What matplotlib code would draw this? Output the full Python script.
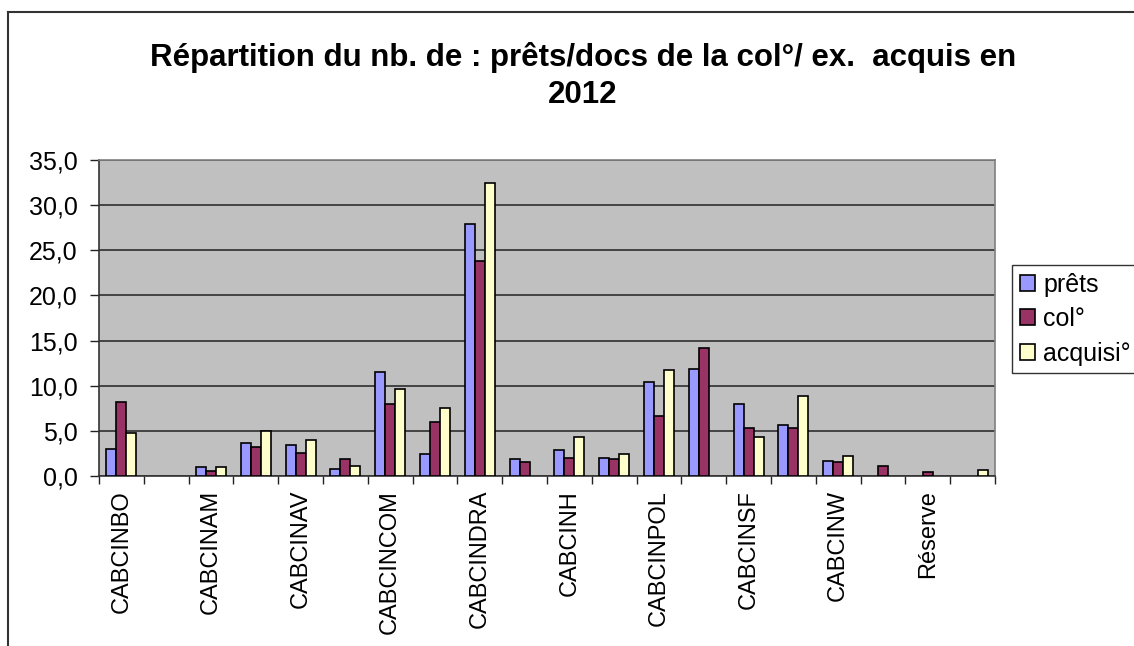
import matplotlib
matplotlib.use("Agg")
import matplotlib.pyplot as plt
import numpy as np
from matplotlib.lines import Line2D
from matplotlib.ticker import FuncFormatter

plt.rcParams['font.family'] = ['Liberation Sans', 'DejaVu Sans']

# 20 catégories, seules une sur deux sont étiquetées dans l'original
categories = ["CABCINBO", "", "CABCINAM", "", "CABCINAV", "", "CABCINCOM", "",
              "CABCINDRA", "", "CABCINH", "", "CABCINPOL", "", "CABCINSF", "",
              "CABCINW", "", "Réserve", ""]
prets = [3.0, 0, 1.0, 3.6, 3.4, 0.8, 11.5, 2.4, 27.9, 1.9,
         2.9, 2.0, 10.4, 11.8, 8.0, 5.7, 1.7, 0, 0, 0]
col = [8.2, 0, 0.6, 3.2, 2.6, 1.9, 8.0, 6.0, 23.8, 1.6,
       2.0, 1.9, 6.7, 14.2, 5.3, 5.3, 1.6, 1.1, 0.45, 0]
acquisi = [4.8, 0, 1.0, 5.0, 4.0, 1.1, 9.6, 7.5, 32.4, 0,
           4.3, 2.4, 11.7, 0, 4.3, 8.9, 2.2, 0, 0, 0.65]
series = [("prêts", prets, "#9999FF"), ("col°", col, "#993366"), ("acquisi°", acquisi, "#FFFFCC")]
title = "Répartition du nb. de : prêts/docs de la col°/ ex.  acquis en\n2012"

W, H = 1134, 646
fig = plt.figure(figsize=(W / 100, H / 100), dpi=100)
ax = fig.add_axes([99 / W, 1 - 476 / H, (995 - 99) / W, (476 - 160) / H])
ax.set_facecolor("#C0C0C0")

x = np.arange(len(categories))
bw = 0.223
for i, (name, vals, c) in enumerate(series):
    v = np.array(vals, dtype=float)
    m = v > 0
    ax.bar(x[m] + (i - 1) * bw, v[m], width=bw, color=c, edgecolor="black",
           linewidth=1.2, zorder=3, label=name)

ax.set_xlim(-0.5, len(categories) - 0.5)
ax.set_ylim(0, 35)
ax.set_yticks(np.arange(0, 36, 5))
ax.yaxis.set_major_formatter(FuncFormatter(lambda v, p: f"{v:.1f}".replace(".", ",")))
ax.grid(axis="y", color="#222222", linewidth=1.1, zorder=1)
ax.set_axisbelow(True)

lab_idx = [i for i, c in enumerate(categories) if c]
ax.set_xticks(lab_idx)
ax.set_xticklabels([categories[i] for i in lab_idx], rotation=90, va="top", ha="center", fontsize=17)
ax.set_xticks(np.arange(-0.5, len(categories), 1), minor=True)
ax.tick_params(axis="x", which="major", length=0, pad=10)
ax.tick_params(axis="x", which="minor", length=6, width=1, color="#222222", direction="out")
ax.tick_params(axis="y", length=6.5, width=1, color="#222222", labelsize=18, pad=9)

for s in ["top", "right"]:
    ax.spines[s].set_color("#808080")
    ax.spines[s].set_linewidth(1.2)
for s in ["left", "bottom"]:
    ax.spines[s].set_color("#333333")
    ax.spines[s].set_linewidth(1.2)

fig.text(583 / W, 1 - 42 / H, title, ha="center", va="top", fontsize=22.5,
         fontweight="bold", linespacing=1.3)

leg = fig.legend(loc="upper left", bbox_to_anchor=(1012 / W, 1 - 265 / H),
                 fontsize=18, frameon=True, fancybox=False, handlelength=0.6,
                 handleheight=0.6, handletextpad=0.35, borderpad=0.3,
                 labelspacing=0.42, borderaxespad=0)
leg.get_frame().set_edgecolor("black")
leg.get_frame().set_linewidth(1)

# cadre extérieur du graphique
fig.add_artist(Line2D([8 / W, 8 / W], [0, 1 - 12 / H], color="#333333", linewidth=1.5))
fig.add_artist(Line2D([8 / W, 1], [1 - 12 / H, 1 - 12 / H], color="#333333", linewidth=1.5))

fig.savefig("out.png", dpi=100)
